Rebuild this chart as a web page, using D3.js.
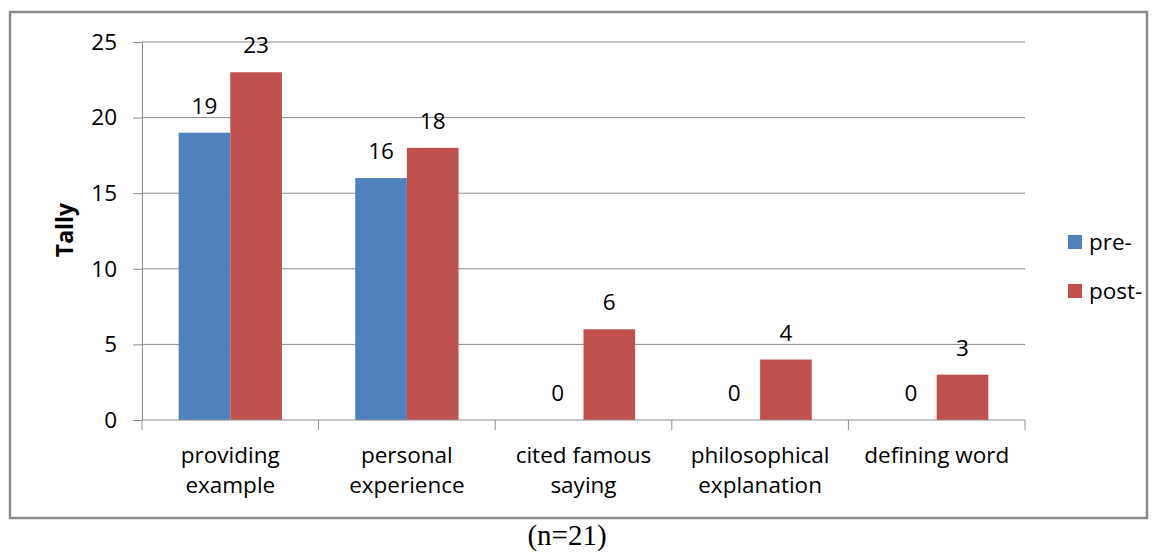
<!DOCTYPE html>
<html>
<head>
<meta charset="utf-8">
<script src="https://cdn.jsdelivr.net/npm/d3@7"></script>
<style>
  body { margin: 0; background: #fff; }
  svg { display: block; }
</style>
</head>
<body>
<svg id="chart" width="1159" height="552"></svg>
<script>
const categories = [
    ['providing', 'example'],
    ['personal', 'experience'],
    ['cited famous', 'saying'],
    ['philosophical', 'explanation'],
    ['defining word']
];
const seriesNames = ['pre-', 'post-'];
const preValues = [19, 16, 0, 0, 0];
const postValues = [23, 18, 6, 4, 3];
const yTicks = [0, 5, 10, 15, 20, 25];
const colors = ['#4f81bd', '#c0504d'];

const svg = d3.select('#chart');
const font = '"Open Sans", "Noto Sans", sans-serif';
const fs = 22.5;

// outer frame
svg.append('rect')
    .attr('x', 10).attr('y', 12)
    .attr('width', 1137).attr('height', 506)
    .attr('fill', 'none')
    .attr('stroke', '#8a8a8a')
    .attr('stroke-width', 2.5);

const margin = { left: 142, right: 1025, top: 42, bottom: 420 };

const x = d3.scaleBand()
    .domain(d3.range(categories.length))
    .range([margin.left, margin.right]);

const inner = d3.scaleBand()
    .domain(seriesNames)
    .range([0, x.bandwidth()])
    .paddingInner(0)
    .paddingOuter(0.71);

const y = d3.scaleLinear().domain([0, 25]).range([margin.bottom, margin.top]);

// gridlines
svg.append('g')
    .selectAll('line')
    .data(yTicks.filter(d => d > 0))
    .join('line')
    .attr('x1', margin.left).attr('x2', margin.right)
    .attr('y1', d => y(d)).attr('y2', d => y(d))
    .attr('stroke', '#8c8c8c')
    .attr('stroke-width', 1);

// y axis
const yAxis = svg.append('g')
    .attr('transform', `translate(${margin.left},0)`)
    .call(d3.axisLeft(y).tickValues(yTicks).tickSize(9).tickPadding(16));
yAxis.select('.domain').attr('stroke', '#8c8c8c');
yAxis.selectAll('.tick line').attr('stroke', '#8c8c8c');
yAxis.selectAll('text')
    .attr('font-family', font)
    .attr('font-size', fs)
    .attr('fill', '#000');

// bars
const rows = categories.map((c, i) => ({ i, values: [preValues[i], postValues[i]] }));
const groups = svg.append('g')
    .selectAll('g')
    .data(rows)
    .join('g')
    .attr('transform', d => `translate(${x(d.i)},0)`);

groups.selectAll('rect')
    .data(d => d.values.map((v, k) => ({ name: seriesNames[k], v, k })))
    .join('rect')
    .attr('x', d => inner(d.name))
    .attr('width', inner.bandwidth())
    .attr('y', d => y(d.v))
    .attr('height', d => y(0) - y(d.v))
    .attr('fill', d => colors[d.k]);

groups.selectAll('text')
    .data(d => d.values.map((v, k) => ({ name: seriesNames[k], v, k })))
    .join('text')
    .attr('x', d => inner(d.name) + inner.bandwidth() / 2)
    .attr('y', d => y(d.v) - 19)
    .attr('text-anchor', 'middle')
    .attr('font-family', font)
    .attr('font-size', fs)
    .attr('fill', '#000')
    .text(d => d.v);

// x axis
const xAxis = svg.append('g')
    .attr('transform', `translate(0,${margin.bottom})`);
xAxis.append('line')
    .attr('x1', margin.left).attr('x2', margin.right)
    .attr('stroke', '#8c8c8c');
xAxis.selectAll('.tk')
    .data(d3.range(categories.length + 1))
    .join('line')
    .attr('class', 'tk')
    .attr('x1', i => margin.left + i * x.step())
    .attr('x2', i => margin.left + i * x.step())
    .attr('y1', 0).attr('y2', 10)
    .attr('stroke', '#8c8c8c');
xAxis.selectAll('.lbl')
    .data(categories)
    .join('text')
    .attr('class', 'lbl')
    .attr('x', (d, i) => x(i) + x.bandwidth() / 2)
    .attr('y', 43)
    .attr('text-anchor', 'middle')
    .attr('font-family', font)
    .attr('font-size', fs)
    .attr('fill', '#000')
    .selectAll('tspan')
    .data(d => d)
    .join('tspan')
    .attr('x', function () { return d3.select(this.parentNode).attr('x'); })
    .attr('dy', (d, j) => j === 0 ? 0 : 30)
    .text(d => d);

// y label
svg.append('text')
    .attr('transform', 'translate(73,230) rotate(-90)')
    .attr('text-anchor', 'middle')
    .attr('font-family', font)
    .attr('font-size', 23)
    .attr('font-weight', 'bold')
    .attr('fill', '#000')
    .text('Tally');

// legend
const legend = svg.append('g')
    .selectAll('g')
    .data(seriesNames)
    .join('g')
    .attr('transform', (d, i) => `translate(1068,${235 + i * 49})`);
legend.append('rect')
    .attr('width', 14).attr('height', 14)
    .attr('fill', (d, i) => colors[i]);
legend.append('text')
    .attr('x', 21).attr('y', 15)
    .attr('font-family', font)
    .attr('font-size', fs)
    .attr('fill', '#000')
    .text(d => d);

// caption
svg.append('text')
    .attr('x', 567).attr('y', 545)
    .attr('text-anchor', 'middle')
    .attr('font-family', '"Liberation Serif", "DejaVu Serif", serif')
    .attr('font-size', 29)
    .attr('fill', '#000')
    .text('(n=21)');
</script>
</body>
</html>
